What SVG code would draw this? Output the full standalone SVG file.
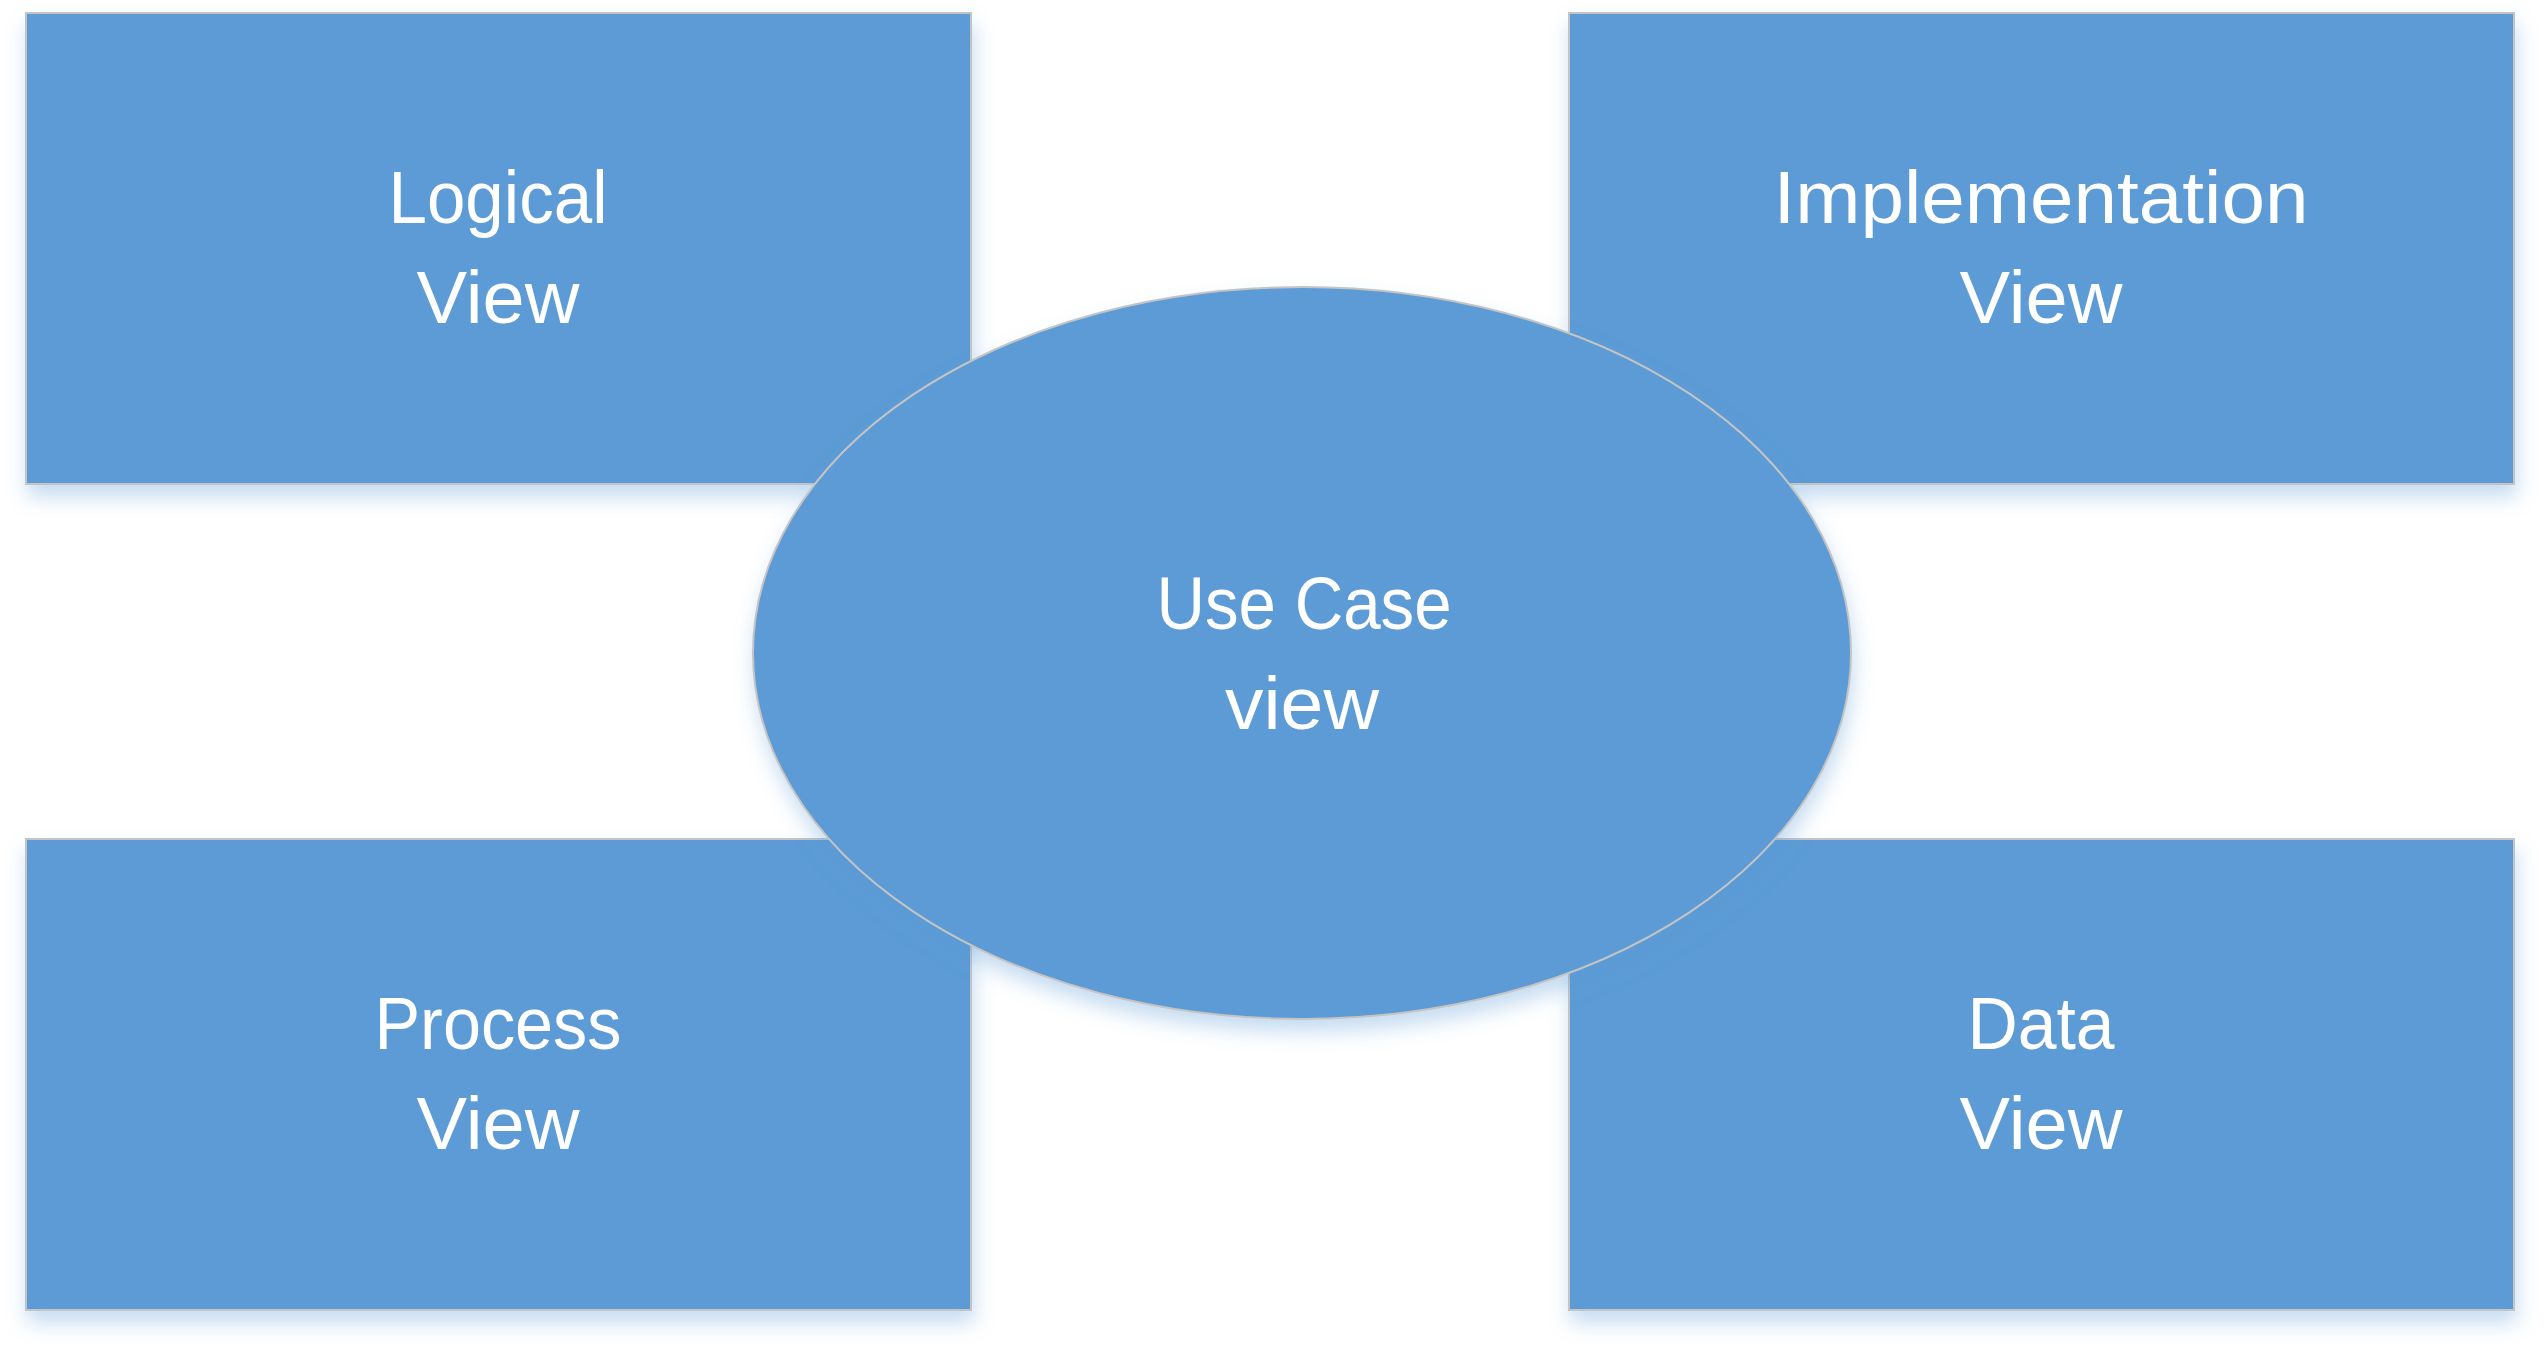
<svg xmlns="http://www.w3.org/2000/svg" width="2545" height="1355" viewBox="0 0 2545 1355">
<defs>
<filter id="sh" x="-10%" y="-10%" width="120%" height="125%">
<feDropShadow dx="2" dy="12" stdDeviation="10" flood-color="#5B9BD5" flood-opacity="0.35"/>
</filter>
<style>
.box{fill:#5B9BD5;stroke:#C4C4C4;stroke-width:2;filter:url(#sh)}
.lbl{font-family:"Liberation Sans",Arial,sans-serif;font-size:74px;fill:#FFFFFF;text-anchor:middle}
</style>
</defs>
<rect width="2545" height="1355" fill="#FFFFFF"/>
<g id="logical">
<rect class="box" x="26" y="13" width="945" height="471"/>
<text class="lbl" x="498" y="223" textLength="219" lengthAdjust="spacingAndGlyphs">Logical</text>
<text class="lbl" x="498" y="323" textLength="163" lengthAdjust="spacingAndGlyphs">View</text>
</g>
<g id="implementation">
<rect class="box" x="1569" y="13" width="945" height="471"/>
<text class="lbl" x="2041" y="223" textLength="535" lengthAdjust="spacingAndGlyphs">Implementation</text>
<text class="lbl" x="2041" y="323" textLength="163" lengthAdjust="spacingAndGlyphs">View</text>
</g>
<g id="process">
<rect class="box" x="26" y="839" width="945" height="471"/>
<text class="lbl" x="498" y="1049" textLength="247" lengthAdjust="spacingAndGlyphs">Process</text>
<text class="lbl" x="498" y="1149" textLength="163" lengthAdjust="spacingAndGlyphs">View</text>
</g>
<g id="data">
<rect class="box" x="1569" y="839" width="945" height="471"/>
<text class="lbl" x="2041" y="1049" textLength="147" lengthAdjust="spacingAndGlyphs">Data</text>
<text class="lbl" x="2041" y="1149" textLength="163" lengthAdjust="spacingAndGlyphs">View</text>
</g>
<g id="usecase">
<ellipse class="box" cx="1302" cy="653" rx="549" ry="366"/>
<text class="lbl" x="1304" y="629" textLength="295" lengthAdjust="spacingAndGlyphs">Use Case</text>
<text class="lbl" x="1302" y="729" textLength="154" lengthAdjust="spacingAndGlyphs">view</text>
</g>
<g id="connectors"></g>
</svg>
